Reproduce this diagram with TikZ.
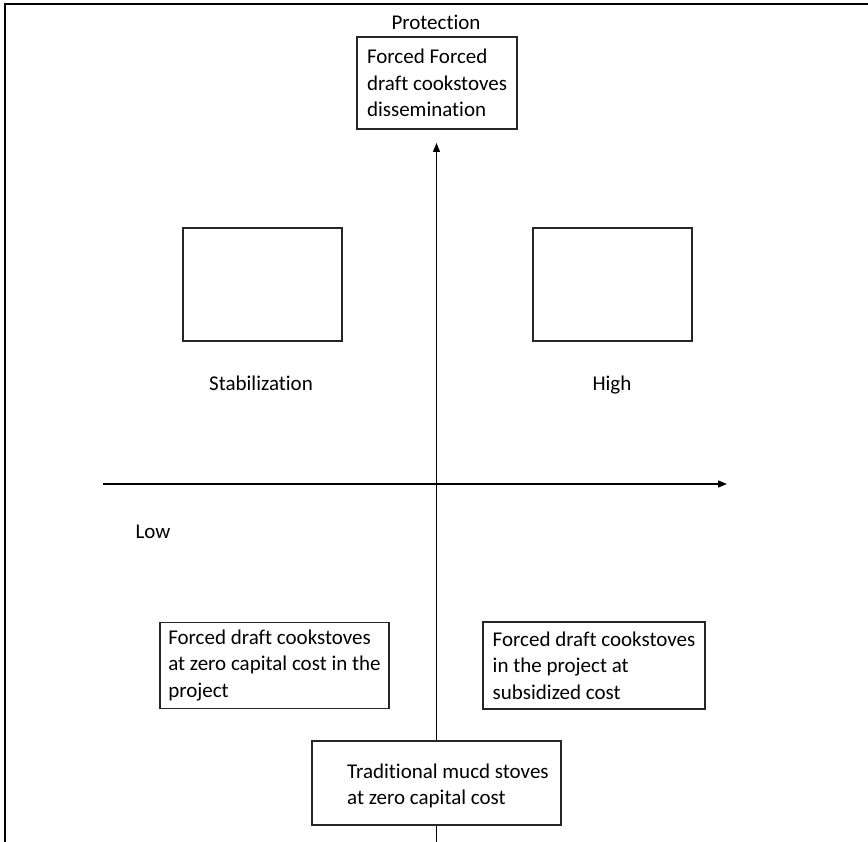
\documentclass[tikz,border=0pt]{standalone}
\usepackage{fontspec}
\setmainfont{Carlito}[RawFeature={-liga;-clig;-calt}]
\usetikzlibrary{arrows.meta}

\begin{document}
\begin{tikzpicture}[x=1pt, y=-1pt,
    box/.style={draw=black!85, line width=1.5pt, fill=white, inner sep=0pt, align=left, font=\fontsize{21}{26.5}\selectfont},
    lbl/.style={font=\fontsize{21}{26.5}\selectfont, inner sep=0pt, text height=14pt, text depth=0pt},
    axis/.style={line width=1.3pt, -{Triangle[length=9pt,width=7pt]}}]
            \useasboundingbox (0,0) rectangle (868,842);

            % Frame
            \draw[line width=2pt] (5,842) -- (5,4) -- (868,4);

            % Add boxes
            \node[box, minimum width=160, minimum height=92] (forced) at (437,83) {Forced Forced\\draft cookstoves\\dissemination};
            \node[box, minimum width=159, minimum height=113] (stabbox) at (262.5,284.5) {};
            \node[box, minimum width=159, minimum height=113] (highbox) at (612.5,284.5) {};
            \node[box, minimum width=229, minimum height=86] (zerocost) at (274.5,665.5) {Forced draft cookstoves\\at zero capital cost in the\\project};
            \node[box, minimum width=222, minimum height=87] (subsid) at (594,665.5) {Forced draft cookstoves\\in the project at\\subsidized cost};
            \node[box, minimum width=249, minimum height=84] (trad) at (436.5,783) {};
            \node[lbl, anchor=west, align=left, text height=, text depth=] (tradtxt) at (347,786) {Traditional mucd stoves\\at zero capital cost};

            % Add labels
            \node[lbl] (prot) at (436,23) {Protection};
            \node[lbl] (stab) at (261,384) {Stabilization};
            \node[lbl] (high) at (612,384) {High};
            \node[lbl] (low) at (153,531) {Low};

            % Draw axes
            \coordinate (ytop) at (436.5,143);
            \coordinate (ybot) at (436.5,842);
            \coordinate (xleft) at (103,484);
            \coordinate (xright) at (727,484);
            \draw[axis] (trad.north) -- (ytop);
            \draw[line width=1.3pt] (trad.south) -- (ybot);
            \draw[axis] (xleft) -- (xright);
\end{tikzpicture}
\end{document}
